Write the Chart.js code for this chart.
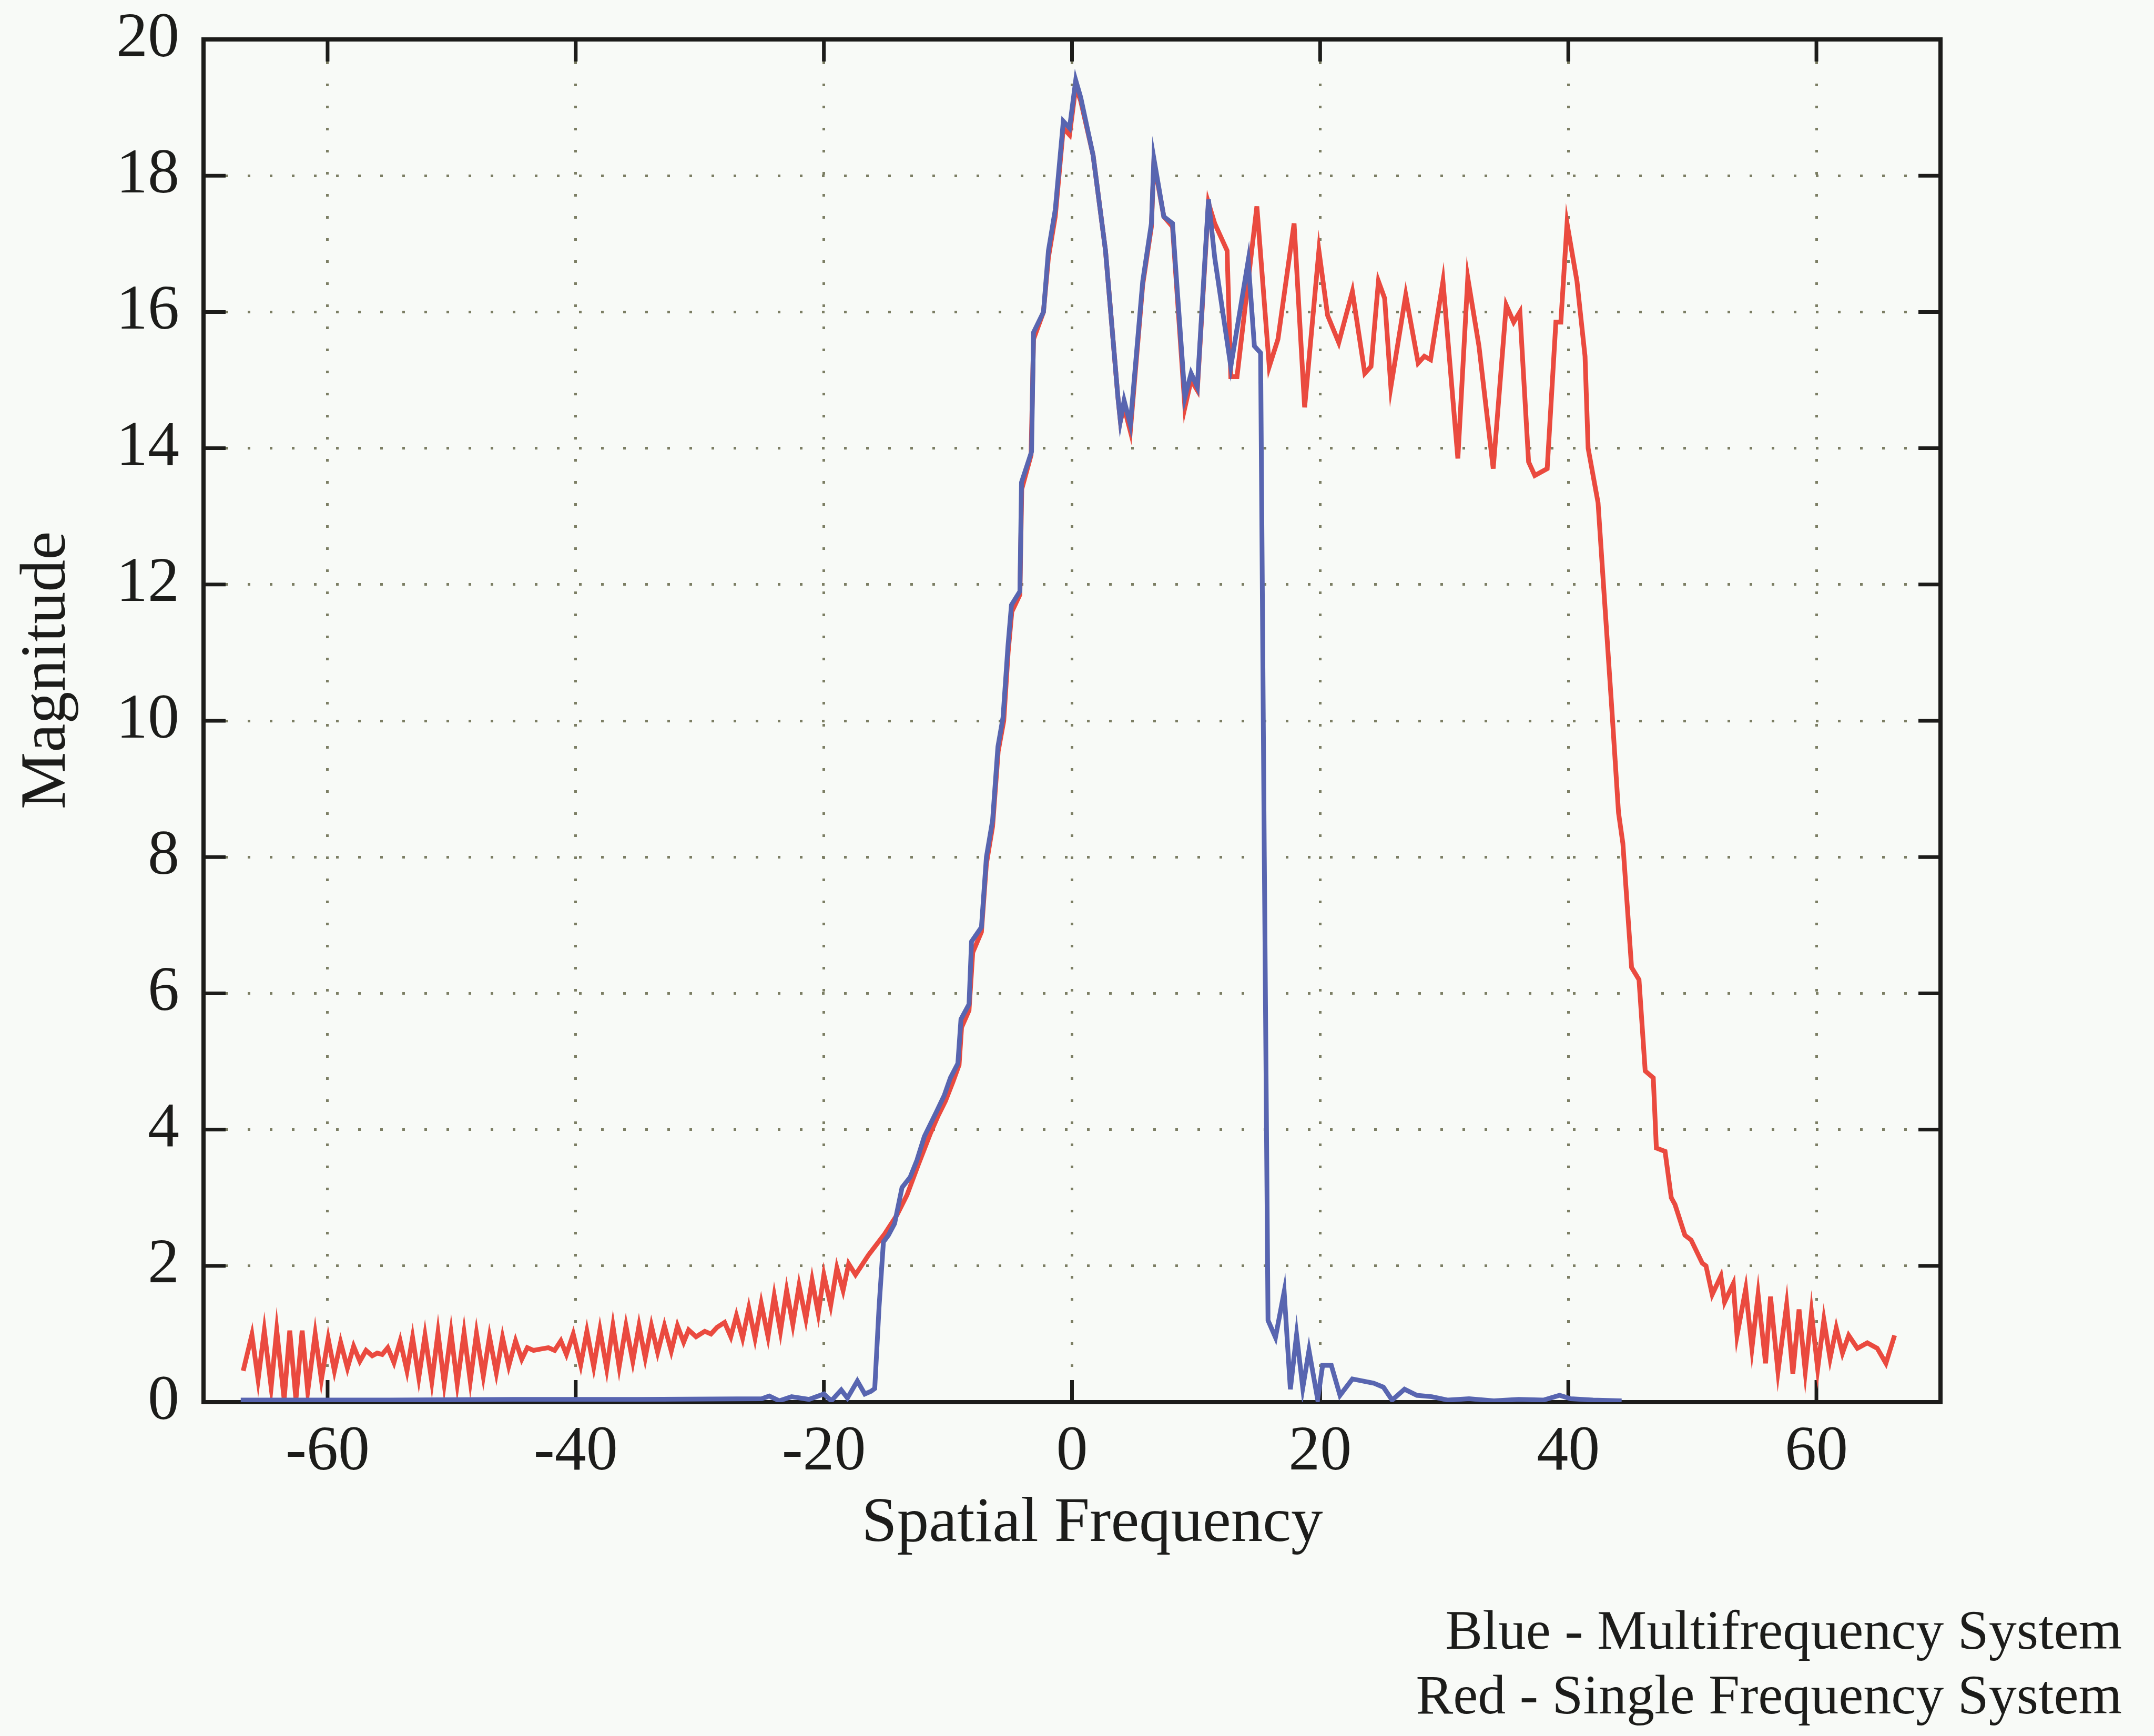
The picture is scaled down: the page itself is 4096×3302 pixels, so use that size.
<!DOCTYPE html>
<html>
<head>
<meta charset="utf-8">
<title>Spatial frequency response</title>
<script src="https://cdn.jsdelivr.net/npm/chart.js@4.4.1/dist/chart.umd.min.js"></script>
<style>
  html, body { margin: 0; padding: 0; background: #f8faf7; }
  #wrap { width: 4096px; height: 3302px; }
</style>
</head>
<body>
<div id="wrap"><canvas id="chart" width="4096" height="3302"></canvas></div>
<script>
// tick values
const xTicks = [-60, -40, -20, 0, 20, 40, 60];
const yTicks = [0, 2, 4, 6, 8, 10, 12, 14, 16, 18, 20];

// Blue - multifrequency system
const freqBlue = [
    -67.0, -55, -45, -35, -25, -24.4, -23.6, -22.6, -21.2, -20.0, -19.4, -18.6, -18.1, -17.3, -16.7, -16.2, -15.9,
    -15.55, -15.2, -14.8, -14.3, -13.7, -13.05, -12.5, -11.9, -10.9, -10.3, -9.8, -9.2, -8.95, -8.3, -8.1, -7.3,
    -6.9, -6.4, -5.97, -5.56, -5.16, -4.88, -4.2, -4.07, -3.26, -3.1, -2.3, -1.9, -1.35, -0.7, -0.2, 0.3, 0.7,
    1.7, 2.7, 3.7, 3.9, 4.2, 4.7, 5.7, 6.4, 6.6, 7.4, 8.1, 9.1, 9.6, 10.1, 11.0, 11.5, 12.8, 14.2, 14.7, 15.2,
    15.5, 15.8, 16.4, 17.1, 17.6, 18.1, 18.6, 19.1, 19.8, 20.2, 20.9, 21.6, 22.6, 24.3, 25.1, 25.8, 26.8, 27.8,
    29.0, 30.3, 32.0, 34.0, 36.0, 38.0, 39.3, 40.2, 42.0, 44.3
];
const magBlue = [
    0.03, 0.03, 0.04, 0.04, 0.05, 0.09, 0.02, 0.08, 0.04, 0.12, 0.02, 0.18, 0.06, 0.31, 0.12, 0.16, 0.2,
    1.4, 2.35, 2.45, 2.62, 3.15, 3.3, 3.55, 3.9, 4.27, 4.5, 4.76, 4.97, 5.62, 5.84, 6.76, 6.97,
    8.0, 8.54, 9.62, 10.05, 11.1, 11.7, 11.9, 13.5, 13.95, 15.7, 16.0, 16.9, 17.5, 18.8, 18.7, 19.4, 19.15,
    18.3, 16.9, 14.75, 14.4, 14.7, 14.35, 16.45, 17.3, 18.25, 17.4, 17.3, 14.75, 15.1, 14.9, 17.65, 16.8, 15.2, 16.75, 15.5, 15.4,
    8.0, 1.2, 0.95, 1.62, 0.19, 0.99, 0.21, 0.76, 0.04, 0.54, 0.54, 0.1, 0.34, 0.28, 0.22, 0.03, 0.19, 0.1,
    0.08, 0.03, 0.05, 0.02, 0.04, 0.03, 0.1, 0.05, 0.03, 0.02
];

// Red - single frequency system
const freqRed = [
    -66.8, -66.1, -65.6, -65.1, -64.55, -64.1, -63.5, -63.05, -62.55, -62.05, -61.6, -61.0, -60.5, -59.95,
    -59.45, -58.95, -58.4, -57.9, -57.4, -56.9, -56.4, -56.0, -55.6, -55.15, -54.65, -54.15, -53.6, -53.15,
    -52.65, -52.15, -51.6, -51.1, -50.6, -50.05, -49.55, -49.0, -48.5, -48.0, -47.45, -46.95, -46.4, -45.9,
    -45.4, -44.85, -44.35, -43.9, -43.4, -42.8, -42.2, -41.7, -41.2, -40.75, -40.2, -39.6, -39.1, -38.55,
    -38.05, -37.5, -37.0, -36.5, -35.95, -35.4, -34.9, -34.4, -33.9, -33.4, -32.85, -32.3, -31.8, -31.3,
    -30.9, -30.3, -29.6, -29.1, -28.6, -28.0, -27.5, -27.05, -26.55, -26.05, -25.55, -25.05, -24.5, -24.0,
    -23.5, -23.0, -22.5, -22.0, -21.45, -20.95, -20.45, -20.0, -19.45, -18.95, -18.45, -18.0, -17.45, -16.4,
    -15.1, -14.1, -13.3, -12.4, -11.4, -10.8, -10.2, -9.6, -9.1, -8.9, -8.3, -8.0, -7.3, -6.9, -6.4, -5.95,
    -5.5, -5.15, -4.85, -4.2, -4.05, -3.3, -3.1, -2.3, -1.9, -1.35, -0.7, -0.2, 0.3, 0.7, 1.7, 2.7, 3.7, 3.9,
    4.2, 4.7, 5.7, 6.4, 6.6, 7.4, 8.1, 9.1, 9.6, 10.1, 11.0, 11.5, 12.5, 12.8, 13.3, 14.9, 15.9, 16.6, 17.9,
    18.75, 19.9, 20.6, 21.5, 22.6, 23.6, 24.1, 24.7, 25.2, 25.7, 26.9, 27.9, 28.4, 28.9, 29.9, 31.1, 31.9,
    32.8, 33.95, 35.0, 35.6, 36.1, 36.8, 37.3, 38.3, 39.0, 39.4, 39.9, 40.7, 41.35, 41.6, 42.4, 42.8, 43.5,
    44.05, 44.4, 45.1, 45.7, 46.2, 46.85, 47.1, 47.8, 48.3, 48.6, 49.4, 49.9, 50.8, 51.1, 51.6, 52.3, 52.6,
    53.3, 53.6, 54.3, 54.8, 55.3, 55.9, 56.3, 56.9, 57.6, 58.1, 58.6, 59.1, 59.6, 60.1, 60.6, 61.1, 61.6,
    62.1, 62.6, 63.3, 64.1, 64.9, 65.6, 66.3
];
const magRed = [
    0.46, 0.99, 0.33, 1.05, 0.22, 1.06, 0.04, 1.05, 0.04, 1.05, 0.16, 1.0, 0.33, 0.93,
    0.46, 0.88, 0.5, 0.82, 0.6, 0.76, 0.68, 0.72, 0.7, 0.8, 0.58, 0.9, 0.46, 0.95,
    0.36, 0.98, 0.3, 1.02, 0.27, 1.02, 0.27, 1.02, 0.31, 1.01, 0.38, 0.96, 0.43, 0.95,
    0.53, 0.9, 0.63, 0.8, 0.76, 0.78, 0.8, 0.76, 0.9, 0.7, 1.0, 0.55, 1.04, 0.52,
    1.06, 0.49, 1.12, 0.52, 1.12, 0.6, 1.12, 0.65, 1.12, 0.73, 1.12, 0.75, 1.12, 0.88,
    1.06, 0.96, 1.04, 1.0, 1.1, 1.17, 0.96, 1.27, 0.94, 1.38, 0.94, 1.45, 0.96, 1.56,
    1.04, 1.64, 1.14, 1.71, 1.22, 1.79, 1.3, 1.87, 1.42, 1.97, 1.64, 2.03, 1.87, 2.16,
    2.47, 2.75, 3.04, 3.48, 3.95, 4.2, 4.42, 4.7, 4.95, 5.5, 5.75, 6.6, 6.9, 7.9, 8.45, 9.55,
    10.0, 11.0, 11.6, 11.85, 13.4, 13.9, 15.6, 16.0, 16.8, 17.4, 18.7, 18.6, 19.3, 19.1, 18.3, 16.9, 14.75, 14.4,
    14.6, 14.25, 16.4, 17.25, 18.2, 17.4, 17.25, 14.6, 15.0, 14.85, 17.6, 17.3, 16.9, 15.05, 15.05, 17.55, 15.2, 15.6, 17.3,
    14.6, 16.9, 15.95, 15.55, 16.3, 15.1, 15.2, 16.45, 16.2, 14.9, 16.25, 15.25, 15.35, 15.3, 16.45, 13.85, 16.5,
    15.5, 13.7, 16.1, 15.85, 16.0, 13.8, 13.6, 13.7, 15.85, 15.85, 17.3, 16.45, 15.35, 14.0, 13.2, 12.1, 10.2,
    8.65, 8.2, 6.38, 6.2, 4.86, 4.76, 3.73, 3.68, 3.0, 2.9, 2.45, 2.38, 2.04, 2.0, 1.58, 1.85, 1.47,
    1.74, 0.98, 1.66, 0.79, 1.58, 0.57, 1.55, 0.45, 1.43, 0.42, 1.36, 0.45, 1.32, 0.49, 1.21, 0.64, 1.09,
    0.72, 0.98, 0.79, 0.87, 0.79, 0.57, 0.98
];

const ink = '#1c1c1a';
const serif = "'Liberation Serif', 'DejaVu Serif', serif";

const toPoints = (xs, ys) => xs.map((v, i) => ({ x: v, y: ys[i] }));

// frame, inward ticks and the free text labels
const framePlugin = {
    id: 'framePlugin',
    beforeDraw(chart) {
        const ctx = chart.ctx;
        ctx.save();
        ctx.fillStyle = '#f8faf7';
        ctx.fillRect(0, 0, chart.width, chart.height);
        ctx.restore();
    },
    beforeDatasetsDraw(chart) {
        const { ctx, chartArea: a, scales: { x, y } } = chart;
        const tickLen = 42;
        ctx.save();
        ctx.strokeStyle = ink;
        ctx.lineWidth = 8;
        ctx.strokeRect(a.left, a.top, a.right - a.left, a.bottom - a.top);
        ctx.lineWidth = 7;
        ctx.beginPath();
        xTicks.forEach(v => {
            const px = x.getPixelForValue(v);
            ctx.moveTo(px, a.bottom);
            ctx.lineTo(px, a.bottom - tickLen);
            ctx.moveTo(px, a.top);
            ctx.lineTo(px, a.top + tickLen);
        });
        yTicks.forEach(v => {
            const py = y.getPixelForValue(v);
            ctx.moveTo(a.left, py);
            ctx.lineTo(a.left + tickLen, py);
            ctx.moveTo(a.right, py);
            ctx.lineTo(a.right - tickLen, py);
        });
        ctx.stroke();
        ctx.restore();
    },
    afterDraw(chart) {
        const ctx = chart.ctx;
        ctx.save();
        ctx.fillStyle = ink;
        ctx.textBaseline = 'middle';

        // axis titles
        ctx.font = '121px ' + serif;
        ctx.textAlign = 'center';
        ctx.fillText('Spatial Frequency', 2077, 2899);

        ctx.save();
        ctx.translate(91, 1275);
        ctx.rotate(-Math.PI / 2);
        ctx.font = '122px ' + serif;
        ctx.fillText('Magnitude', 0, 0);
        ctx.restore();

        // legend note
        ctx.font = '106px ' + serif;
        ctx.textAlign = 'right';
        ctx.fillText('Blue - Multifrequency System', 4035, 3108);
        ctx.fillText('Red - Single Frequency System', 4035, 3231);
        ctx.restore();
    }
};

const gridStyle = {
    color: '#7c7e64',
    lineWidth: 5,
    drawTicks: false
};

new Chart(document.getElementById('chart'), {
    type: 'scatter',
    data: {
        datasets: [
            {
                label: 'Blue - Multifrequency System',
                data: toPoints(freqBlue, magBlue),
                showLine: true,
                borderColor: '#5865b0',
                borderWidth: 9,
                pointRadius: 0,
                tension: 0
            },
            {
                label: 'Red - Single Frequency System',
                data: toPoints(freqRed, magRed),
                showLine: true,
                borderColor: '#ea4a3f',
                borderWidth: 9,
                pointRadius: 0,
                tension: 0
            }
        ]
    },
    options: {
        responsive: false,
        animation: false,
        devicePixelRatio: 1,
        layout: { padding: { left: 0, top: 75, right: 406, bottom: 300 } },
        plugins: {
            legend: { display: false },
            tooltip: { enabled: false }
        },
        scales: {
            x: {
                type: 'linear',
                min: -70,
                max: 70,
                afterBuildTicks: (scale) => { scale.ticks = xTicks.map(v => ({ value: v })); },
                afterFit: (scale) => { scale.height = 335; },
                grid: gridStyle,
                border: { display: false, dash: [5, 37] },
                ticks: {
                    color: ink,
                    padding: 24,
                    maxRotation: 0,
                    font: { family: serif, size: 120 }
                }
            },
            y: {
                type: 'linear',
                min: 0,
                max: 20,
                afterBuildTicks: (scale) => { scale.ticks = yTicks.map(v => ({ value: v })); },
                afterFit: (scale) => {
                    scale.width = 387;
                    scale.paddingTop = 60;
                    scale.paddingBottom = 60;
                },
                grid: gridStyle,
                border: { display: false, dash: [5, 37] },
                ticks: {
                    color: ink,
                    padding: 46,
                    font: { family: serif, size: 120 }
                }
            }
        }
    },
    plugins: [framePlugin]
});
</script>
</body>
</html>
